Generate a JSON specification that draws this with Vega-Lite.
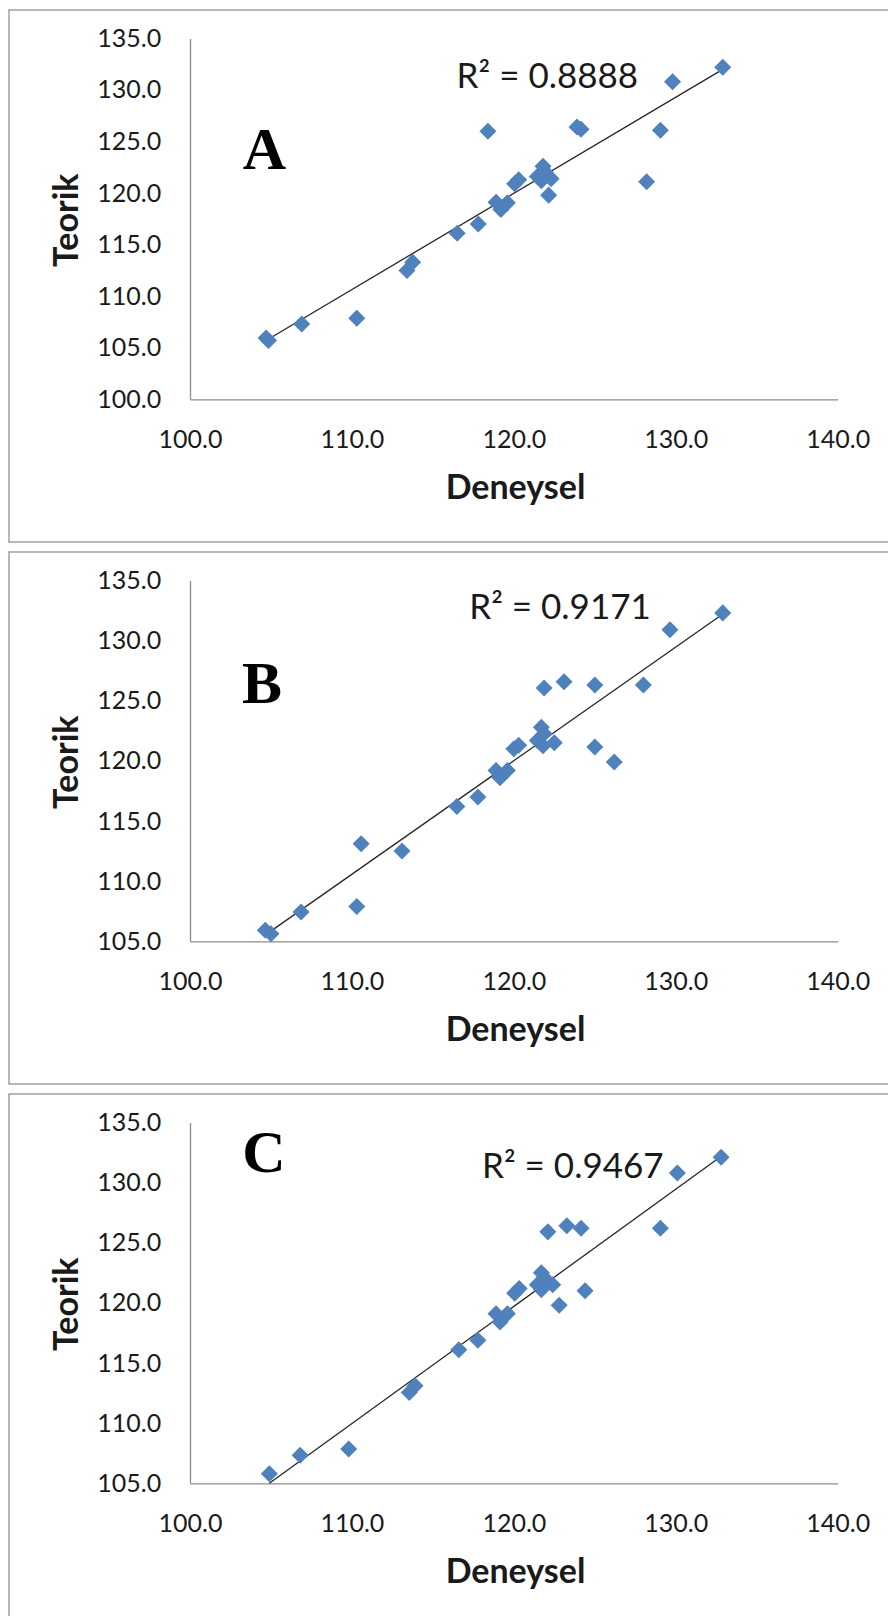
{
  "$schema": "https://vega.github.io/schema/vega-lite/v6.json",
  "padding": {"left": 8, "top": 9, "right": 0, "bottom": 0},
  "background": "white",
  "spacing": 8,
  "config": {
    "view": {"stroke": "#a0a0a0", "strokeWidth": 1.5},
    "axis": {"grid": false, "ticks": false, "tickSize": 0, "domainColor": "#8c8c8c", "domainWidth": 1.3,
      "labelFont": "Lato", "labelFontSize": 25, "labelColor": "#1a1a1a",
      "titleFont": "Lato", "titleFontSize": 34, "titleFontWeight": "bold", "titleColor": "#1a1a1a",
      "labelOverlap": false, "labelFlush": false}
  },
  "datasets": {
    "A": [
      {"Deneysel": 104.7, "Teorik": 105.95}, {"Deneysel": 104.85, "Teorik": 105.7},
      {"Deneysel": 106.9, "Teorik": 107.3}, {"Deneysel": 110.3, "Teorik": 107.86},
      {"Deneysel": 113.4, "Teorik": 112.5}, {"Deneysel": 113.75, "Teorik": 113.3},
      {"Deneysel": 116.5, "Teorik": 116.1}, {"Deneysel": 117.8, "Teorik": 117.0},
      {"Deneysel": 118.4, "Teorik": 126.0}, {"Deneysel": 118.9, "Teorik": 119.1},
      {"Deneysel": 119.2, "Teorik": 118.4}, {"Deneysel": 119.6, "Teorik": 119.05},
      {"Deneysel": 120.05, "Teorik": 120.9}, {"Deneysel": 120.3, "Teorik": 121.3},
      {"Deneysel": 121.45, "Teorik": 121.6}, {"Deneysel": 121.8, "Teorik": 122.6},
      {"Deneysel": 121.9, "Teorik": 122.1}, {"Deneysel": 121.7, "Teorik": 121.2},
      {"Deneysel": 122.3, "Teorik": 121.4}, {"Deneysel": 122.15, "Teorik": 119.8},
      {"Deneysel": 123.9, "Teorik": 126.4}, {"Deneysel": 124.15, "Teorik": 126.2},
      {"Deneysel": 128.2, "Teorik": 121.1}, {"Deneysel": 129.05, "Teorik": 126.1},
      {"Deneysel": 129.8, "Teorik": 130.8}, {"Deneysel": 132.9, "Teorik": 132.2}
    ],
    "B": [
      {"Deneysel": 104.65, "Teorik": 105.92}, {"Deneysel": 105.0, "Teorik": 105.63},
      {"Deneysel": 106.86, "Teorik": 107.44}, {"Deneysel": 110.3, "Teorik": 107.9},
      {"Deneysel": 110.57, "Teorik": 113.1}, {"Deneysel": 113.09, "Teorik": 112.5},
      {"Deneysel": 116.48, "Teorik": 116.2}, {"Deneysel": 117.78, "Teorik": 117.0},
      {"Deneysel": 118.9, "Teorik": 119.2}, {"Deneysel": 119.15, "Teorik": 118.6},
      {"Deneysel": 119.6, "Teorik": 119.2}, {"Deneysel": 120.0, "Teorik": 121.0},
      {"Deneysel": 120.3, "Teorik": 121.3}, {"Deneysel": 121.45, "Teorik": 121.7},
      {"Deneysel": 121.7, "Teorik": 122.8}, {"Deneysel": 121.87, "Teorik": 122.25},
      {"Deneysel": 121.8, "Teorik": 121.25}, {"Deneysel": 122.5, "Teorik": 121.5},
      {"Deneysel": 121.87, "Teorik": 126.05}, {"Deneysel": 123.1, "Teorik": 126.57},
      {"Deneysel": 125.0, "Teorik": 126.3}, {"Deneysel": 125.0, "Teorik": 121.16},
      {"Deneysel": 126.2, "Teorik": 119.9}, {"Deneysel": 128.0, "Teorik": 126.3},
      {"Deneysel": 129.64, "Teorik": 130.9}, {"Deneysel": 132.9, "Teorik": 132.3}
    ],
    "C": [
      {"Deneysel": 104.9, "Teorik": 105.8}, {"Deneysel": 106.8, "Teorik": 107.34},
      {"Deneysel": 109.8, "Teorik": 107.85}, {"Deneysel": 113.54, "Teorik": 112.55},
      {"Deneysel": 113.9, "Teorik": 113.1}, {"Deneysel": 116.6, "Teorik": 116.1},
      {"Deneysel": 117.78, "Teorik": 116.9}, {"Deneysel": 118.9, "Teorik": 119.1},
      {"Deneysel": 119.15, "Teorik": 118.4}, {"Deneysel": 119.6, "Teorik": 119.1},
      {"Deneysel": 120.05, "Teorik": 120.8}, {"Deneysel": 120.33, "Teorik": 121.2},
      {"Deneysel": 121.45, "Teorik": 121.5}, {"Deneysel": 121.7, "Teorik": 122.5},
      {"Deneysel": 121.87, "Teorik": 122.1}, {"Deneysel": 121.7, "Teorik": 121.1},
      {"Deneysel": 122.4, "Teorik": 121.5}, {"Deneysel": 122.1, "Teorik": 125.9},
      {"Deneysel": 122.8, "Teorik": 119.8}, {"Deneysel": 123.27, "Teorik": 126.4},
      {"Deneysel": 124.15, "Teorik": 126.2}, {"Deneysel": 124.4, "Teorik": 121.0},
      {"Deneysel": 129.05, "Teorik": 126.2}, {"Deneysel": 130.1, "Teorik": 130.8},
      {"Deneysel": 132.8, "Teorik": 132.1}
    ],
    "fitA": [{"Deneysel": 104.7, "Teorik": 105.7}, {"Deneysel": 132.9, "Teorik": 132.0}],
    "fitB": [{"Deneysel": 104.55, "Teorik": 105.43}, {"Deneysel": 132.8, "Teorik": 132.1}],
    "fitC": [{"Deneysel": 104.9, "Teorik": 105.0}, {"Deneysel": 132.83, "Teorik": 132.2}],
    "notesA": [{"Deneysel": 122.07, "Teorik": 130.2, "label": "R² = 0.8888"}],
    "notesB": [{"Deneysel": 122.85, "Teorik": 131.8, "label": "R² = 0.9171"}],
    "notesC": [{"Deneysel": 123.64, "Teorik": 130.4, "label": "R² = 0.9467"}],
    "letterA": [{"Deneysel": 104.6, "Teorik": 122.3, "label": "A"}],
    "letterB": [{"Deneysel": 104.45, "Teorik": 124.8, "label": "B"}],
    "letterC": [{"Deneysel": 104.57, "Teorik": 130.9, "label": "C"}]
  },
  "vconcat": [
    {
      "width": 880, "height": 532,
      "encoding": {
        "x": {"field": "Deneysel", "type": "quantitative",
          "scale": {"domain": [100, 140], "range": [181, 828.7], "nice": false, "zero": false},
          "axis": {"title": "Deneysel", "values": [100, 110, 120, 130, 140], "format": ".1f", "offset": -142.7,
            "labelBaseline": "alphabetic", "labelPadding": 47.7, "titleX": 506, "titleY": 98.7, "titleBaseline": "alphabetic"}},
        "y": {"field": "Teorik", "type": "quantitative",
          "scale": {"domain": [100, 135], "range": [389.3, 28.4], "nice": false, "zero": false},
          "axis": {"title": "Teorik", "values": [100, 105, 110, 115, 120, 125, 130, 135], "format": ".1f", "offset": -181,
            "labelPadding": 29.3, "titleX": -112.9, "titleY": 209.8, "titleBaseline": "alphabetic", "titleAngle": -90}}
      },
      "layer": [
        {"data": {"name": "fitA"}, "mark": {"type": "line", "color": "#262626", "strokeWidth": 1.3}},
        {"data": {"name": "A"}, "mark": {"type": "point", "shape": "diamond", "filled": true, "size": 290, "color": "#4F81BD", "opacity": 1}},
        {"data": {"name": "notesA"}, "mark": {"type": "text", "font": "Lato", "fontSize": 35, "color": "#1a1a1a", "align": "center", "baseline": "alphabetic"}, "encoding": {"text": {"field": "label"}}},
        {"data": {"name": "letterA"}, "mark": {"type": "text", "font": "Liberation Serif", "fontWeight": "bold", "fontSize": 60, "color": "#000000", "align": "center", "baseline": "alphabetic"}, "encoding": {"text": {"field": "label"}}}
      ]
    },
    {
      "width": 880, "height": 532,
      "encoding": {
        "x": {"field": "Deneysel", "type": "quantitative",
          "scale": {"domain": [100, 140], "range": [181, 828.7], "nice": false, "zero": false},
          "axis": {"title": "Deneysel", "values": [100, 110, 120, 130, 140], "format": ".1f", "offset": -142.7,
            "labelBaseline": "alphabetic", "labelPadding": 47.7, "titleX": 506, "titleY": 98.7, "titleBaseline": "alphabetic"}},
        "y": {"field": "Teorik", "type": "quantitative",
          "scale": {"domain": [105, 135], "range": [389.3, 28.4], "nice": false, "zero": false},
          "axis": {"title": "Teorik", "values": [105, 110, 115, 120, 125, 130, 135], "format": ".1f", "offset": -181,
            "labelPadding": 29.3, "titleX": -112.9, "titleY": 209.8, "titleBaseline": "alphabetic", "titleAngle": -90}}
      },
      "layer": [
        {"data": {"name": "fitB"}, "mark": {"type": "line", "color": "#262626", "strokeWidth": 1.3}},
        {"data": {"name": "B"}, "mark": {"type": "point", "shape": "diamond", "filled": true, "size": 290, "color": "#4F81BD", "opacity": 1}},
        {"data": {"name": "notesB"}, "mark": {"type": "text", "font": "Lato", "fontSize": 35, "color": "#1a1a1a", "align": "center", "baseline": "alphabetic"}, "encoding": {"text": {"field": "label"}}},
        {"data": {"name": "letterB"}, "mark": {"type": "text", "font": "Liberation Serif", "fontWeight": "bold", "fontSize": 60, "color": "#000000", "align": "center", "baseline": "alphabetic"}, "encoding": {"text": {"field": "label"}}}
      ]
    },
    {
      "width": 880, "height": 527,
      "encoding": {
        "x": {"field": "Deneysel", "type": "quantitative",
          "scale": {"domain": [100, 140], "range": [181, 828.7], "nice": false, "zero": false},
          "axis": {"title": "Deneysel", "values": [100, 110, 120, 130, 140], "format": ".1f", "offset": -137.7,
            "labelBaseline": "alphabetic", "labelPadding": 47.7, "titleX": 506, "titleY": 98.7, "titleBaseline": "alphabetic"}},
        "y": {"field": "Teorik", "type": "quantitative",
          "scale": {"domain": [105, 135], "range": [389.3, 28.4], "nice": false, "zero": false},
          "axis": {"title": "Teorik", "values": [105, 110, 115, 120, 125, 130, 135], "format": ".1f", "offset": -181,
            "labelPadding": 29.3, "titleX": -112.9, "titleY": 209.8, "titleBaseline": "alphabetic", "titleAngle": -90}}
      },
      "layer": [
        {"data": {"name": "fitC"}, "mark": {"type": "line", "color": "#262626", "strokeWidth": 1.3}},
        {"data": {"name": "C"}, "mark": {"type": "point", "shape": "diamond", "filled": true, "size": 290, "color": "#4F81BD", "opacity": 1}},
        {"data": {"name": "notesC"}, "mark": {"type": "text", "font": "Lato", "fontSize": 35, "color": "#1a1a1a", "align": "center", "baseline": "alphabetic"}, "encoding": {"text": {"field": "label"}}},
        {"data": {"name": "letterC"}, "mark": {"type": "text", "font": "Liberation Serif", "fontWeight": "bold", "fontSize": 60, "color": "#000000", "align": "center", "baseline": "alphabetic"}, "encoding": {"text": {"field": "label"}}}
      ]
    }
  ]
}
